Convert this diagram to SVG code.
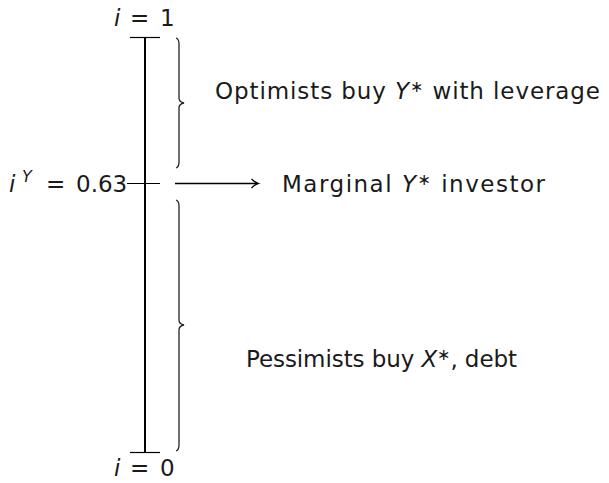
<svg xmlns="http://www.w3.org/2000/svg" width="609" height="483" viewBox="0 0 609 483">
<defs>
<marker id="arr" markerWidth="12" markerHeight="12" refX="9" refY="6" orient="auto" markerUnits="userSpaceOnUse">
<path d="M2.5,1.5 Q6,5 9.5,6 Q6,7 2.5,10.5" fill="none" stroke="#000" stroke-width="1.3"/>
</marker>
</defs>
<style>
text{font-family:"DejaVu Sans","Liberation Sans",sans-serif;font-size:23px;fill:#1a1a1a}
.m{font-style:italic}
.s{font-size:16px}
.ln{stroke:#000;fill:none}
.br{stroke:#222;fill:none;stroke-width:1.3}
</style>
<rect width="609" height="483" fill="#fff"/>
<g id="axis">
<line class="ln" x1="145" y1="37.5" x2="145" y2="452.5" stroke-width="2"/>
<line class="ln" x1="130" y1="37.5" x2="160" y2="37.5" stroke-width="1.2"/>
<line class="ln" x1="130" y1="452.5" x2="160" y2="452.5" stroke-width="1.2"/>
<line class="ln" x1="127" y1="183.5" x2="160" y2="183.5" stroke-width="1.2"/>
</g>
<g id="top-label"><text y="26"><tspan class="m" x="114">i</tspan><tspan x="130">=</tspan><tspan x="160">1</tspan></text></g>
<g id="mid-label"><text y="192"><tspan class="m" x="9">i</tspan><tspan class="m s" x="22" y="182">Y</tspan><tspan x="46" y="192">=</tspan><tspan x="76">0.63</tspan></text></g>
<g id="bot-label"><text y="476"><tspan class="m" x="114">i</tspan><tspan x="130">=</tspan><tspan x="160">0</tspan></text></g>
<g id="brace-top"><path class="br" d="M176,38 Q179,39 179,44 L179,98 Q179,102 184,103 Q179,104 179,108 L179,162 Q179,167 176,168"/></g>
<g id="brace-bot"><path class="br" d="M176,200 Q179,201 179,206 L179,320 Q179,324 184,325 Q179,326 179,330 L179,445 Q179,450 176,451"/></g>
<g id="connectors"><line class="ln" x1="175" y1="183.5" x2="258" y2="183.5" stroke-width="1.6" marker-end="url(#arr)"/></g>
<g id="opt"><text x="215" y="99" textLength="385" lengthAdjust="spacing">Optimists buy <tspan class="m">Y</tspan><tspan class="s" dy="-7">∗</tspan><tspan dy="7"> with leverage</tspan></text></g>
<g id="marg"><text x="282" y="192" textLength="263" lengthAdjust="spacing">Marginal <tspan class="m">Y</tspan><tspan class="s" dy="-7">∗</tspan><tspan dy="7"> investor</tspan></text></g>
<g id="pess"><text x="246" y="367" textLength="271" lengthAdjust="spacing">Pessimists buy <tspan class="m">X</tspan><tspan class="s" dy="-7">∗</tspan><tspan dy="7">, debt</tspan></text></g>
</svg>
